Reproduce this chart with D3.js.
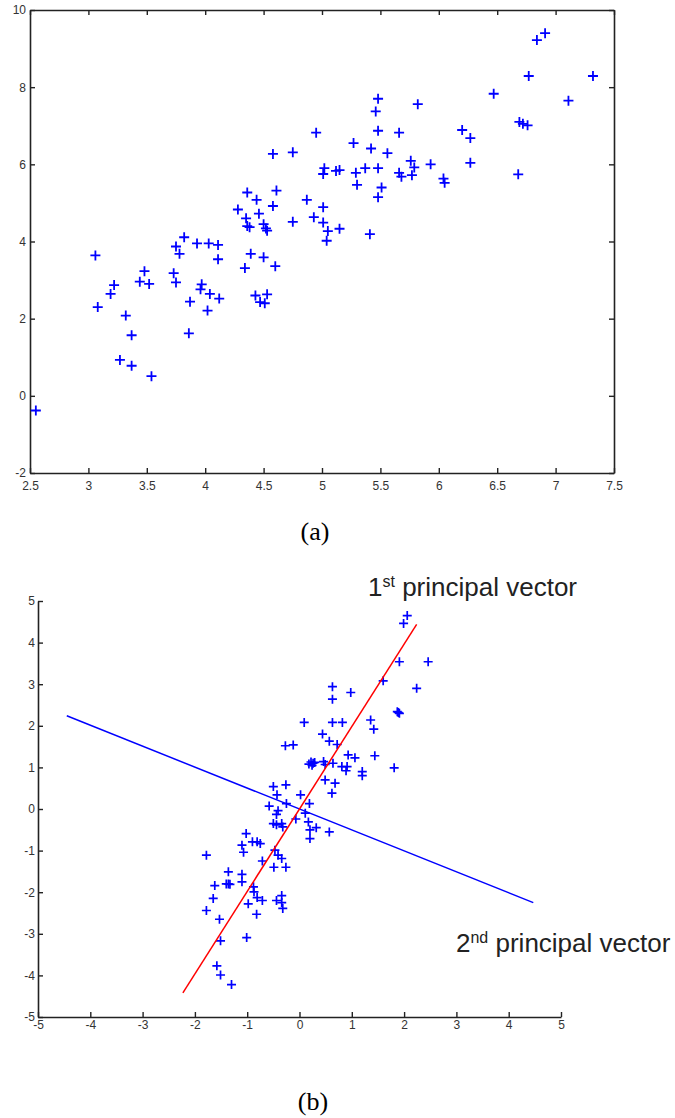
<!DOCTYPE html>
<html>
<head>
<meta charset="utf-8">
<script src="https://cdn.jsdelivr.net/npm/d3@7"></script>
<style>
  html, body { margin: 0; padding: 0; background: #fff; }
  svg { display: block; }
  .tick text { font-family: "Liberation Sans", Arial, sans-serif; font-size: 12px; fill: #333; }
  .tick line, .domain { stroke: #222; }
</style>
</head>
<body>
<svg id="fig" width="675" height="1118"></svg>
<script>
// (a) raw data
var topPoints = [
  [2.55,-0.38],[3.06,3.64],[3.08,2.30],[3.19,2.64],[3.22,2.87],[3.32,2.08],[3.37,1.57],
  [3.27,0.93],[3.37,0.78],[3.54,0.51],[3.48,3.23],[3.44,2.96],[3.52,2.90],[3.73,3.18],
  [3.75,2.94],[3.75,3.87],[3.78,3.68],[3.82,4.11],[3.93,3.95],[4.03,3.95],[4.11,3.91],
  [4.11,3.54],[3.97,2.89],[3.96,2.76],[4.04,2.64],[4.12,2.52],[3.87,2.44],[4.02,2.21],
  [3.86,1.62],[4.34,3.31],[4.39,3.68],[4.50,3.59],[4.60,3.36],[4.43,2.60],[4.47,2.43],
  [4.51,2.40],[4.53,2.63],[4.28,4.83],[4.36,5.27],[4.44,5.08],[4.61,5.32],[4.58,4.92],
  [4.35,4.60],[4.36,4.40],[4.38,4.37],[4.46,4.72],[4.50,4.45],[4.52,4.34],[4.53,4.28],
  [4.58,6.27],[4.75,6.31],[4.75,4.51],[4.87,5.08],[4.93,4.63],[4.95,6.82],[5.01,4.89],
  [5.01,4.49],[5.05,4.27],[5.04,4.02],[5.15,4.33],[5.01,5.75],[5.02,5.90],[5.12,5.83],
  [5.15,5.85],[5.27,6.55],[5.42,6.41],[5.56,6.29],[5.29,5.78],[5.37,5.90],[5.48,5.90],
  [5.30,5.47],[5.51,5.40],[5.48,5.15],[5.41,4.19],[5.48,7.70],[5.46,7.37],[5.82,7.56],
  [5.48,6.87],[5.66,6.82],[5.76,6.09],[5.79,5.92],[5.93,6.00],[5.66,5.78],[5.68,5.68],
  [5.77,5.72],[6.04,5.63],[6.05,5.52],[6.20,6.89],[6.27,6.68],[6.27,6.04],[6.47,7.83],
  [6.68,5.74],[6.69,7.10],[6.72,7.05],[6.76,7.01],[6.77,8.29],[6.84,9.22],[6.91,9.40],
  [7.11,7.65],[7.32,8.29]
];
var topXTicks = [2.5,3,3.5,4,4.5,5,5.5,6,6.5,7,7.5];
var topYTicks = [-2,0,2,4,6,8,10];

// (b) centred data with principal vectors
var botPoints = [
  [2.06,4.65],[1.99,4.46],[1.91,3.54],[2.46,3.54],[1.60,3.08],[2.24,2.90],[0.63,2.94],
  [0.63,2.64],[0.98,2.80],[1.87,2.34],[1.91,2.30],[1.89,2.32],[1.36,2.14],[1.42,1.92],
  [0.09,2.08],[0.63,2.08],[0.82,2.08],[0.44,1.80],[0.57,1.63],[0.72,1.55],[-0.27,1.52],
  [-0.12,1.54],[0.93,1.30],[1.06,1.23],[1.44,1.28],[0.18,1.08],[0.22,1.13],[0.26,1.10],
  [0.29,1.12],[0.24,1.05],[0.46,1.14],[0.49,1.07],[0.64,1.10],[0.81,1.02],[0.91,1.02],
  [0.89,0.92],[1.20,0.90],[1.20,0.80],[1.81,0.99],[0.49,0.70],[0.68,0.62],[0.62,0.38],
  [-0.50,0.54],[-0.26,0.58],[-0.43,0.34],[0.02,0.34],[-0.25,0.13],[-0.58,0.07],[0.19,0.13],
  [-0.41,-0.04],[-0.44,-0.13],[0.11,-0.10],[-0.50,-0.35],[-0.34,-0.35],[-0.44,-0.38],
  [-0.32,-0.43],[-0.07,-0.24],[0.17,-0.31],[0.32,-0.45],[0.20,-0.50],[0.20,-0.71],
  [0.57,-0.55],[-1.02,-0.59],[-1.10,-0.87],[-1.07,-1.04],[-0.90,-0.79],[-0.81,-0.79],
  [-0.75,-0.83],[-1.78,-1.11],[-0.47,-0.99],[-0.41,-1.11],[-0.34,-1.19],[-0.71,-1.25],
  [-0.49,-1.40],[-0.26,-1.40],[-1.36,-1.51],[-1.36,-1.80],[-1.10,-1.57],[-1.10,-1.75],
  [-1.40,-1.80],[-1.33,-1.81],[-1.62,-1.84],[-1.65,-2.15],[-0.88,-1.87],[-0.87,-1.99],
  [-0.81,-2.13],[-0.71,-2.20],[-0.98,-2.28],[-0.82,-2.53],[-0.34,-2.08],[-0.34,-2.25],
  [-0.44,-2.20],[-0.32,-2.39],[-1.78,-2.44],[-1.53,-2.65],[-1.01,-3.09],[-1.51,-3.17],
  [-1.58,-3.77],[-1.51,-3.99],[-1.30,-4.22]
];
var firstVector = [[-2.23,-4.42],[2.24,4.44]];
var secondVector = [[-4.45,2.24],[4.47,-2.25]];
var botTicks = [-5,-4,-3,-2,-1,0,1,2,3,4,5];

var svg = d3.select("#fig");
var fmt = function(d){ return String(d); };

function plus(g, pts, x, y, r, w){
  g.selectAll("path.pt")
    .data(pts)
    .enter()
    .append("path")
    .attr("class", "pt")
    .attr("d", "M" + (-r) + ",0H" + r + "M0," + (-r) + "V" + r)
    .attr("transform", function(d){ return "translate(" + x(d[0]) + "," + y(d[1]) + ")"; })
    .attr("stroke", "#0000ff")
    .attr("stroke-width", w)
    .attr("fill", "none");
}

// ---------- (a) ----------
var xa = d3.scaleLinear().domain([2.5, 7.5]).range([30, 614]);
var ya = d3.scaleLinear().domain([-2, 10]).range([473, 10]);
var ga = svg.append("g");

ga.append("g").attr("transform", "translate(0,473)")
  .call(d3.axisBottom(xa).tickValues(topXTicks).tickFormat(fmt).tickSizeInner(-5).tickSizeOuter(0).tickPadding(8));
ga.append("g").attr("transform", "translate(30,0)")
  .call(d3.axisLeft(ya).tickValues(topYTicks).tickFormat(fmt).tickSizeInner(-5).tickSizeOuter(0).tickPadding(4));
ga.append("g").attr("transform", "translate(0,10)")
  .call(d3.axisTop(xa).tickValues(topXTicks).tickFormat("").tickSizeInner(-5).tickSizeOuter(0));
ga.append("g").attr("transform", "translate(614,0)")
  .call(d3.axisRight(ya).tickValues(topYTicks).tickFormat("").tickSizeInner(-5).tickSizeOuter(0));
ga.selectAll(".domain").attr("stroke-width", 1.6);
ga.selectAll(".tick line").attr("stroke-width", 1.4);

plus(ga.append("g"), topPoints, xa, ya, 5, 1.8);

svg.append("text")
  .attr("x", 315).attr("y", 540)
  .attr("text-anchor", "middle")
  .style("font-family", "'Liberation Serif', 'Times New Roman', serif")
  .style("font-size", "26px")
  .text("(a)");

// ---------- (b) ----------
var xb = d3.scaleLinear().domain([-5, 5]).range([38, 561]);
var yb = d3.scaleLinear().domain([-5, 5]).range([1017, 601]);
var gb = svg.append("g");

gb.append("g").attr("transform", "translate(0,1017)")
  .call(d3.axisBottom(xb).tickValues(botTicks).tickFormat(fmt).tickSizeInner(-5).tickSizeOuter(0).tickPadding(3));
gb.append("g").attr("transform", "translate(38,0)")
  .call(d3.axisLeft(yb).tickValues(botTicks).tickFormat(fmt).tickSizeInner(-5).tickSizeOuter(0).tickPadding(3));
gb.selectAll(".domain").attr("stroke-width", 1.6);
gb.selectAll(".tick line").attr("stroke-width", 1.4);

var line = d3.line().x(function(d){ return xb(d[0]); }).y(function(d){ return yb(d[1]); });

plus(gb.append("g"), botPoints, xb, yb, 4.5, 1.7);

gb.append("path").datum(secondVector)
  .attr("d", line).attr("stroke", "#0000ff").attr("stroke-width", 1.5).attr("fill", "none");
gb.append("path").datum(firstVector)
  .attr("d", line).attr("stroke", "#ff0000").attr("stroke-width", 1.5).attr("fill", "none");

function vectorLabel(x, y, num, sup){
  var t = svg.append("text")
    .attr("x", x).attr("y", y)
    .style("font-family", "'Liberation Sans', Arial, sans-serif")
    .style("font-size", "26px")
    .attr("fill", "#222");
  t.append("tspan").text(num);
  t.append("tspan").attr("dy", -9).style("font-size", "16px").text(sup);
  t.append("tspan").attr("dy", 9).text(" principal vector");
}
vectorLabel(368, 596, "1", "st");
vectorLabel(456, 952, "2", "nd");

svg.append("text")
  .attr("x", 313).attr("y", 1110)
  .attr("text-anchor", "middle")
  .style("font-family", "'Liberation Serif', 'Times New Roman', serif")
  .style("font-size", "26px")
  .text("(b)");
</script>
</body>
</html>
